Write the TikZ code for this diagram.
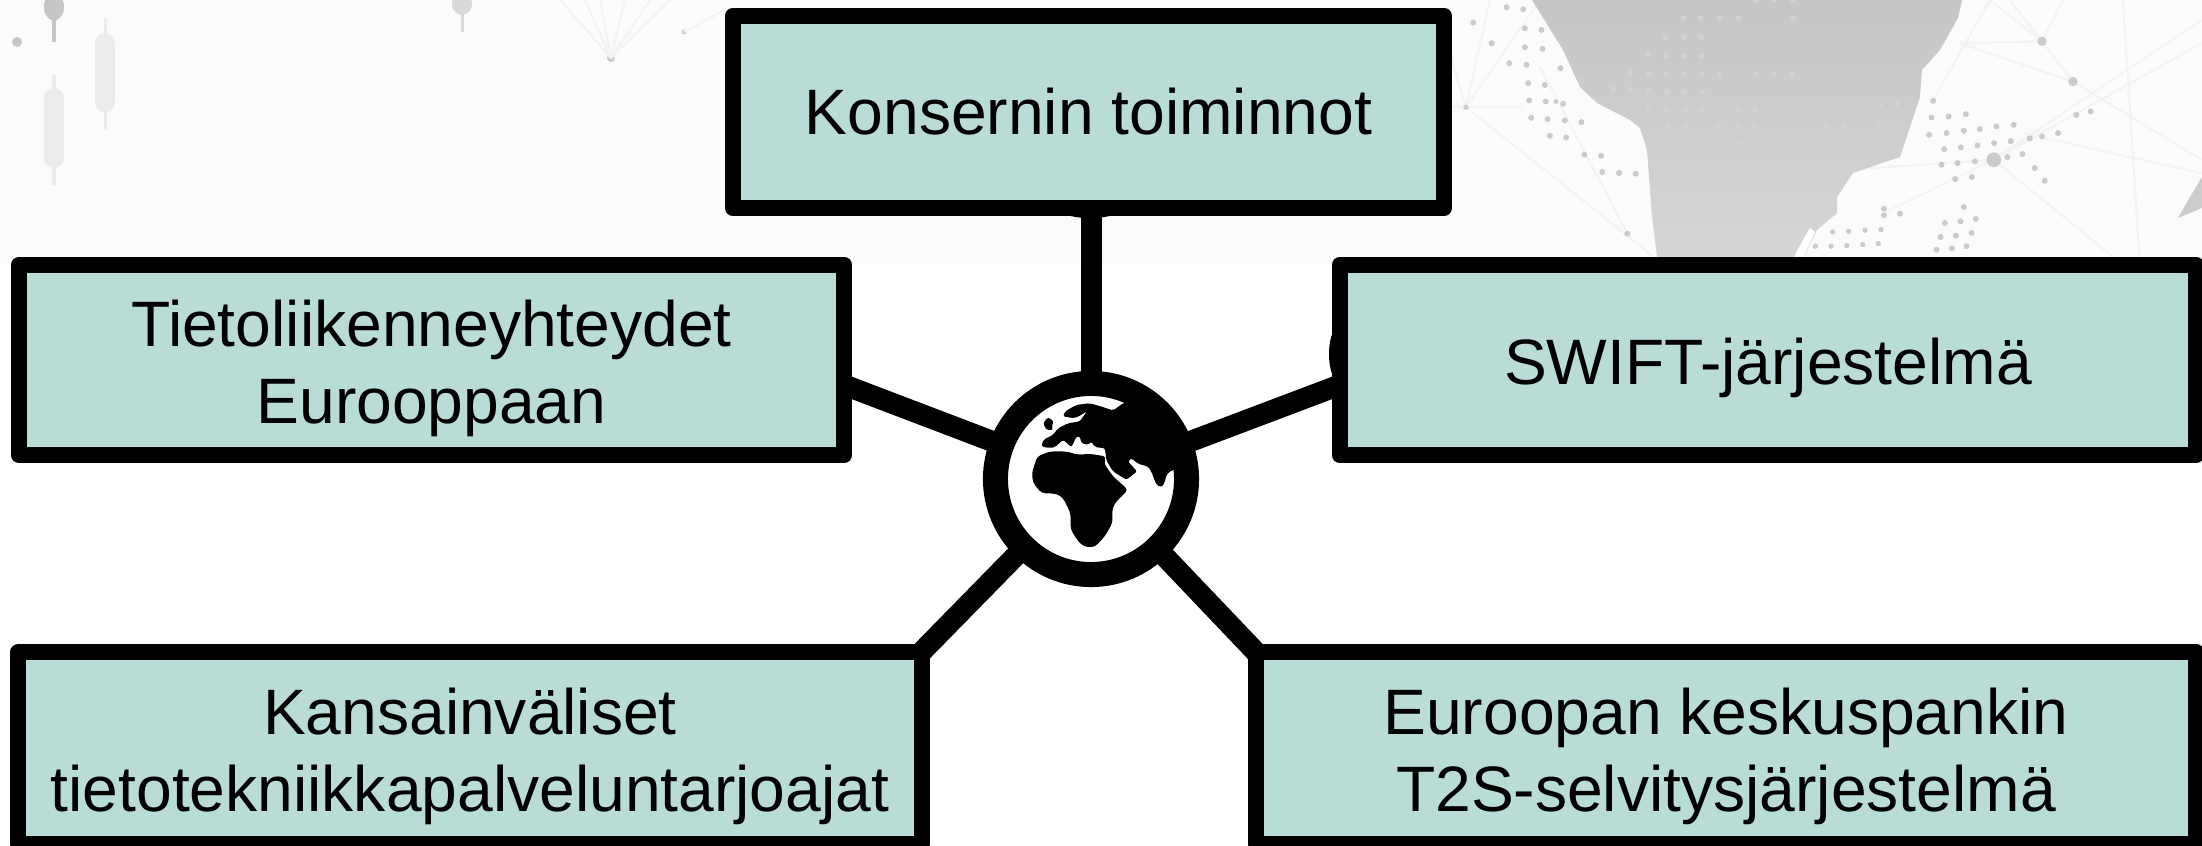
\documentclass[tikz,border=0pt]{standalone}
\usepackage{xcolor}
\usepackage{fontspec}
\usetikzlibrary{backgrounds}
\setmainfont{Liberation Sans}

\definecolor{boxteal}{HTML}{B9DDD6}
\definecolor{backdrop}{HTML}{FBFBFB}
\definecolor{mapdot}{HTML}{CBCBCB}
\definecolor{mapnet}{HTML}{F3F3F3}

\tikzset{
  infobox/.style={draw=black, fill=boxteal, line width=0.16cm, line join=round, inner sep=0pt, outer sep=0pt, align=center, font=\fontsize{18.25}{22}\selectfont},
  lowbox/.style={infobox, execute at begin node=\rule{0pt}{#1}},
  link/.style={line width=0.21cm, draw=black},
  candle/.style={line width=0.03cm, draw=#1},
}

\begin{document}
\begin{tikzpicture}[x=0.01cm,y=-0.01cm]
\useasboundingbox (0,0) rectangle (2202,846);

\node[infobox, minimum width=7.11cm, minimum height=1.92cm] (konserni) at (1088.5,112) {Konsernin toiminnot};
\node[lowbox=1.41cm, minimum width=8.25cm, minimum height=1.90cm] (tieto) at (431.5,360) {Tietoliikenneyhteydet\\Eurooppaan};
\node[lowbox=0.63cm, minimum width=8.56cm, minimum height=1.90cm] (swift) at (1768,360) {SWIFT-järjestelmä};
\node[lowbox=1.41cm, minimum width=9.025cm, minimum height=1.92cm] (kansain) at (470,748) {Kansainväliset\\tietotekniikkapalveluntarjoajat};
\node[lowbox=1.41cm, minimum width=9.40cm, minimum height=1.92cm] (ekp) at (1726,748) {Euroopan keskuspankin\\T2S-selvitysjärjestelmä};

\node[circle, draw=black, fill=white, line width=0.25cm, inner sep=0pt, outer sep=0pt, minimum size=1.91cm] (globe) at (1091,479) {};

\begin{scope}[shift={(950,340)},x=0.00333cm,y=-0.00333cm]
\fill[black, rounded corners=0.6pt] (520,190) -- (490,212) -- (455,200) -- (420,190) -- (380,195) -- (345,215) -- (340,230) -- (375,235) -- (395,225) -- (412,213) -- (390,245) -- (355,250) -- (325,265) -- (310,285) -- (280,300) -- (275,320) -- (300,325) -- (315,322) -- (340,300) -- (365,322) -- (380,290) -- (390,290) -- (395,310) -- (415,315) -- (425,305) -- (435,322) -- (465,325) -- (468,345) -- (470,362) -- (490,395) -- (530,420) -- (562,395) -- (535,365) -- (545,355) -- (565,372) -- (595,380) -- (605,395) -- (620,435) -- (635,442) -- (645,430) -- (650,405) -- (668,390) -- (700,390) -- (680,250) -- (600,170) -- cycle;
\fill[black, rounded corners=0.6pt] (280,250) -- (295,232) -- (312,245) -- (305,260) -- (310,270) -- (290,270) -- cycle;
\fill[black, rounded corners=1pt] (246,400) -- (262,350) -- (300,335) -- (350,335) -- (385,345) -- (420,342) -- (470,350) -- (462,370) -- (490,410) -- (535,450) -- (500,485) -- (488,505) -- (488,550) -- (465,590) -- (435,622) -- (405,622) -- (385,605) -- (363,570) -- (362,520) -- (340,475) -- (320,462) -- (275,460) -- (250,430) -- cycle;
\end{scope}

\begin{scope}[on background layer]
\fill[backdrop] (0,0) rectangle (2202,264);

\draw[candle=gray!45] (54,0) -- (54,42);
\fill[gray!45, rounded corners=4pt] (44,-8) rectangle (64,22);
\fill[gray!45] (17,42) circle (5);
\draw[candle=gray!15] (105,18) -- (105,130);
\fill[gray!15, rounded corners=3pt] (95,33) rectangle (115,113);
\draw[candle=gray!15] (54,75) -- (54,185);
\fill[gray!15, rounded corners=3pt] (44,88) rectangle (64,168);
\draw[candle=gray!30] (462,0) -- (462,32);
\fill[gray!30, rounded corners=3pt] (452,-8) rectangle (472,15);
\fill[gray!40] (611,58) circle (4);
\fill[gray!40] (684,32) circle (2.5);
\foreach \px in {560,585,600,625,650,670}
  \draw[mapnet, line width=0.02cm] (611,58) -- (\px,0);
\draw[mapnet, line width=0.02cm] (684,32) -- (725,10);

\begin{scope}[shift={(1850,0)},x=0.00333cm,y=-0.00333cm]
\foreach \ax/\ay/\bx/\by in {432/480/1056/60, 432/480/1056/130, 432/480/0/510, 432/480/800/780, 577/124/420/0, 577/124/640/0, 577/124/330/130, 670/245/330/130, 670/245/1056/480, 670/245/480/0, 520/400/1056/520, 820/0/870/780, 100/640/432/480, 250/300/420/0}
  \draw[mapnet, line width=0.02cm] (\ax,\ay) -- (\bx,\by);
\end{scope}
\begin{scope}[shift={(1440,0)},x=0.00333cm,y=-0.00333cm]
\foreach \bx/\by in {20/130, 300/0, 0/320, 150/0, 250/320, 640/770}
  \draw[mapnet, line width=0.02cm] (78,322) -- (\bx,\by);
\draw[mapnet, line width=0.02cm] (563,702) -- (300,200);
\end{scope}

\shade[top color=gray!45, bottom color=gray!32]
  (1532,0) -- (1563,50) -- (1580,87) -- (1597,103) -- (1630,120) -- (1640,128) -- (1647,150) -- (1652,217) -- (1658,264)
  -- (1800,264) -- (1817,230) -- (1837,213) -- (1837,197) -- (1853,173) -- (1900,157) -- (1920,97) -- (1922,70)
  -- (1940,50) -- (1958,18) -- (1962,0) -- cycle;
\fill[white] (1790,264) -- (1803,240) -- (1810,228) -- (1815,232) -- (1800,264) -- cycle;
\fill[gray!40] (2178,218) -- (2190,197) -- (2202,177) -- (2202,208) -- cycle;

\begin{scope}[shift={(1440,0)},x=0.00333cm,y=-0.00333cm]
\foreach \px/\py in {200/22,250/28,100/68,255/85,305/90,155/130,255/142,308/147,208/190,260/195,362/205,265/250,315/255,268/302,318/305,370/312,274/354,323/358,375/362,425/367,330/408,379/413,434/465,484/468,488/517,538/520,588/522,563/702}
  \fill[mapdot] (\px,\py) circle (9);
\fill[mapdot] (78,322) circle (8);
\fill[mapdot] (348,305) circle (7);
\foreach \px/\py in {732/55,783/55,840/55,896/55,1062/55,677/112,733/112,785/112,625/165,680/167,733/170,785/170,573/218,627/220,680/222,735/222,787/222,840/225,951/222,1003/222,1058/222,520/268,573/268,627/272,682/275,735/275,787/275,627/325,680/328,738/328,790/328,893/328,947/328,1325/315,1375/312,685/378,738/378,840/378,897/380,945/380,1160/378,1212/375,1320/367,1370/362,900/430,945/435,950/0,1005/0,1060/0}
  \fill[gray!36] (\px,\py) circle (9);
\foreach \px/\py in {1128/740,1175/740,1222/738,1270/735,1317/732,1180/697,1228/695,1277/692,1325/690}
  \fill[mapdot] (\px,\py) circle (8);
\end{scope}
\begin{scope}[shift={(1850,0)},x=0.00333cm,y=-0.00333cm]
\foreach \px/\py in {250/303,245/353,296/350,348/343,238/405,290/400,342/393,390/388,440/380,492/375,283/448,333/443,383/437,433/430,483/424,540/416,577/410,625/400,680/345,723/335,473/472,518/463,275/495,323/490,375/485,316/538,366/532,555/505,585/543,342/622,285/670,332/665,378/658,272/712,318/708,365/700,260/750,306/746,350/740,102/627,150/642,102/647}
  \fill[mapdot] (\px,\py) circle (9);
\fill[mapdot] (577,124) circle (14);
\fill[mapdot] (670,245) circle (14);
\fill[mapdot] (432,480) circle (22);
\end{scope}

\fill[black] (1090,212) ellipse (26 and 6);
\fill[black] (1337,354) ellipse (8 and 25);
\draw[link] (globe.center) -- (globe.center |- konserni.south);
\draw[link] (globe.center) -- ([yshift=-0.25cm]tieto.east);
\draw[link] (globe.center) -- ([yshift=-0.25cm]swift.west);
\draw[link] (globe.center) -- (kansain.north east);
\draw[link] (globe.center) -- (ekp.north west);
\end{scope}
\end{tikzpicture}
\end{document}
